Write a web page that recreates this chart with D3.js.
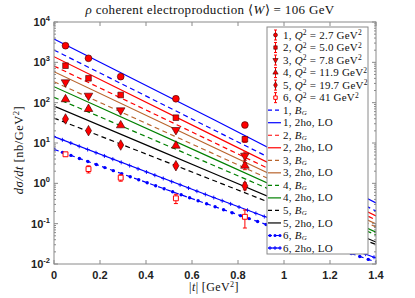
<!DOCTYPE html>
<html><head><meta charset="utf-8">
<script src="https://cdn.jsdelivr.net/npm/d3@7"></script>
<style>body{margin:0;background:#fff}svg{display:block}</style>
</head><body>
<svg id="c" width="415" height="298"></svg>
<script>
// ---------- data ----------
const tData = [0.05, 0.15, 0.29, 0.53, 0.83];
const q2Labels = ["2.7", "5.0", "7.8", "11.9", "19.7", "41"];
const data1 = [2580, 1260, 441, 125, 28];
const err1  = [150, 70, 25, 9, 4];
const data2 = [826, 402, 155, 42.4, 12.4];
const err2  = [50, 25, 10, 3.5, 2];
const data3 = [320, 149, 64.6, 21, 4.84];
const err3  = [20, 10, 4.5, 2, 1.1];
const data4 = [121, 69.6, 27.4, 8.57, 2.73];
const err4  = [8, 5, 2, 0.8, 0.55];
const data5 = [39.4, 20.2, 8.9, 2.73, 0.86];
const err5  = [3, 1.6, 0.8, 0.3, 0.17];
const data6 = [5.25, 2.26, 1.38, 0.425, 0.148];
const err6  = [0.5, 0.45, 0.25, 0.11, 0.07];

const tLine = [0, 0.7, 1.4];
const bg1 = [2020, 20.4, 0.206];
const ho1 = [3800, 36.6, 0.325];
const bg2 = [811, 10.0, 0.123];
const ho2 = [1380, 14.6, 0.155];
const bg3 = [331, 5.2, 0.0826];
const ho3 = [586, 7.55, 0.098];
const bg4 = [136, 2.69, 0.0525];
const ho4 = [249, 3.92, 0.0617];
const bg5 = [41.6, 1.14, 0.0304];
const ho5 = [82.6, 1.70, 0.035];
const bg6 = [6.97, 0.263, 0.0112];
const ho6 = [14.4, 0.432, 0.0141];

const xTicks = [0, 0.2, 0.4, 0.6, 0.8, 1, 1.2, 1.4];
const xTickLabels = ["0", "0.2", "0.4", "0.6", "0.8", "1", "1.2", "1.4"];
const yTicks = [1e-2, 1e-1, 1e0, 1e1, 1e2, 1e3, 1e4];
const yTickExps = ["-2", "-1", "0", "1", "2", "3", "4"];

// ---------- layout ----------
const svg = d3.select("#c");
const L = 54, R = 376, T = 22, B = 264;
const x = d3.scaleLinear().domain([0, 1.4]).range([L, R]);
const y = d3.scaleLog().domain([1e-2, 1e4]).range([B, T]);
const axisCol = "#8a8a8a";
const colors = ["#0000ff", "#ff0000", "#b8642c", "#008000", "#000000", "#0000ff"];

svg.append("defs").append("clipPath").attr("id", "clip")
  .append("rect").attr("x", L).attr("y", T).attr("width", R - L).attr("height", B - T);

// ---------- lines ----------
const lineGen = d3.line().x(d => x(d[0])).y(d => y(d[1])).curve(d3.curveMonotoneX);
const gl = svg.append("g").attr("clip-path", "url(#clip)");
const bgs = [bg1, bg2, bg3, bg4, bg5, bg6];
const hos = [ho1, ho2, ho3, ho4, ho5, ho6];
function addMarkers(path, kind, col) {
  const node = path.node(), len = node.getTotalLength();
  for (let s = 0; s <= len; s += 9) {
    const p = node.getPointAtLength(s);
    if (kind === "dot") {
      gl.append("circle").attr("cx", p.x).attr("cy", p.y).attr("r", 1.7).attr("fill", col);
    } else {
      gl.append("path").attr("d", `M${p.x-2},${p.y}H${p.x+2}M${p.x},${p.y-2}V${p.y+2}`)
        .attr("stroke", col).attr("stroke-width", 0.9);
    }
  }
}
bgs.forEach((arr, i) => {
  const p = gl.append("path").attr("d", lineGen(tLine.map((t, j) => [t, arr[j]])))
    .attr("fill", "none").attr("stroke", colors[i]).attr("stroke-width", 1.2)
    .attr("stroke-dasharray", "5,3.5");
  if (i === 5) addMarkers(p, "dot", colors[i]);
});
hos.forEach((arr, i) => {
  const p = gl.append("path").attr("d", lineGen(tLine.map((t, j) => [t, arr[j]])))
    .attr("fill", "none").attr("stroke", colors[i]).attr("stroke-width", 1.2);
  if (i === 5) addMarkers(p, "plus", colors[i]);
});

// ---------- data points ----------
const series = [data1, data2, data3, data4, data5, data6];
const errs = [err1, err2, err3, err4, err5, err6];
const shapes = [d3.symbolCircle, d3.symbolSquare, "down", "up", d3.symbolDiamond, d3.symbolSquare];
function markerPath(k, size) {
  if (k === "up" || k === "down") return d3.symbol().type(d3.symbolTriangle).size(size)();
  return d3.symbol().type(k).size(size)();
}
function drawMarker(g, i, cx, cy, size) {
  const m = g.append("path").attr("d", markerPath(shapes[i], size))
    .attr("transform", `translate(${cx},${cy})` + (shapes[i] === "down" ? " rotate(180)" : ""));
  if (i === 5) m.attr("fill", "#fff").attr("stroke", "#ff0000").attr("stroke-width", 1);
  else m.attr("fill", "#ff0000").attr("stroke", "#3a0000").attr("stroke-width", 0.6);
}
const gd = svg.append("g");
series.forEach((s, i) => {
  s.forEach((v, j) => {
    const cx = x(tData[j]);
    const y1 = y(v + errs[i][j]), y0 = y(Math.max(v - errs[i][j], 1e-3));
    gd.append("path").attr("d", `M${cx},${y1}V${y0}M${cx-2},${y1}H${cx+2}M${cx-2},${y0}H${cx+2}`)
      .attr("stroke", "#ff0000").attr("stroke-width", 1).attr("fill", "none");
  });
});
series.forEach((s, i) => {
  s.forEach((v, j) => drawMarker(gd, i, x(tData[j]), y(v), i === 0 ? 36 : (i === 5 ? 24 : 32)));
});

// ---------- axes frame ----------
const ga = svg.append("g");
ga.append("rect").attr("x", L).attr("y", T).attr("width", R - L).attr("height", B - T)
  .attr("fill", "none").attr("stroke", axisCol).attr("stroke-width", 1);
xTicks.forEach((t, i) => {
  const px = x(t);
  ga.append("path").attr("d", `M${px},${B}V${B-4}M${px},${T}V${T+4}`).attr("stroke", axisCol);
  ga.append("text").attr("x", px).attr("y", 279).attr("text-anchor", "middle")
    .attr("font-family", "Liberation Sans, Arial, sans-serif").attr("font-weight", "bold")
    .attr("font-size", 11).attr("fill", "#222").text(xTickLabels[i]);
});
yTicks.forEach((v, i) => {
  const py = y(v);
  ga.append("path").attr("d", `M${L},${py}H${L+4}M${R},${py}H${R-4}`).attr("stroke", axisCol);
  if (i < yTicks.length - 1) {
    for (let k = 2; k <= 9; k++) {
      const pm = y(v * k);
      ga.append("path").attr("d", `M${L},${pm}H${L+2}M${R},${pm}H${R-2}`).attr("stroke", axisCol);
    }
  }
  const tx = ga.append("text").attr("x", 50).attr("y", py + 4).attr("text-anchor", "end")
    .attr("font-family", "Liberation Sans, Arial, sans-serif").attr("font-weight", "bold")
    .attr("font-size", 11).attr("fill", "#222");
  tx.append("tspan").text("10");
  tx.append("tspan").attr("dy", -5).attr("font-size", 7.5).text(yTickExps[i]);
});

// ---------- texts ----------
const serif = "Liberation Serif, Times New Roman, serif";
const title = svg.append("text").attr("x", 210).attr("y", 14).attr("text-anchor", "middle")
  .attr("font-family", serif).attr("font-size", 13).attr("letter-spacing", 0.35).attr("fill", "#111");
title.append("tspan").attr("font-style", "italic").text("ρ");
title.append("tspan").text(" coherent electroproduction ⟨");
title.append("tspan").attr("font-style", "italic").text("W");
title.append("tspan").text("⟩ = 106 GeV");

const xl = svg.append("text").attr("x", 214).attr("y", 291).attr("text-anchor", "middle")
  .attr("font-family", serif).attr("font-size", 12).attr("letter-spacing", 0.4).attr("fill", "#111");
xl.append("tspan").text("|");
xl.append("tspan").attr("font-style", "italic").text("t");
xl.append("tspan").text("|  [GeV");
xl.append("tspan").attr("dy", -4).attr("font-size", 8).text("2");
xl.append("tspan").attr("dy", 4).text("]");

const yl = svg.append("text").attr("transform", "translate(23,150) rotate(-90)")
  .attr("text-anchor", "middle").attr("font-family", serif).attr("font-size", 12.5)
  .attr("letter-spacing", 0.5).attr("fill", "#111");
yl.append("tspan").attr("font-style", "italic").text("dσ/dt");
yl.append("tspan").text("  [nb/GeV");
yl.append("tspan").attr("dy", -4).attr("font-size", 8.5).text("2");
yl.append("tspan").attr("dy", 4).text("]");

// ---------- legend ----------
const lg = svg.append("g");
const LX = 267, LY = 27, LW = 101, LH = 227;
lg.append("rect").attr("x", LX).attr("y", LY).attr("width", LW).attr("height", LH)
  .attr("fill", "#fff").attr("stroke", axisCol).attr("stroke-width", 1);
const rowY = k => 35 + k * 12.53;
const textX = 283;
function legText(k) {
  return lg.append("text").attr("x", textX).attr("y", rowY(k) + 3.6)
    .attr("font-family", serif).attr("font-size", 11).attr("letter-spacing", 0.22).attr("fill", "#111");
}
q2Labels.forEach((q, i) => {
  const cy = rowY(i), cx = 275.5;
  lg.append("path").attr("d", `M${cx},${cy-5}V${cy+5}M${cx-1.5},${cy-5}H${cx+1.5}M${cx-1.5},${cy+5}H${cx+1.5}`)
    .attr("stroke", "#ff0000").attr("stroke-width", 1);
  drawMarker(lg, i, cx, cy, 12);
  const t = legText(i);
  t.append("tspan").text(`${i+1}, `);
  t.append("tspan").attr("font-style", "italic").text("Q");
  t.append("tspan").attr("dy", -3.5).attr("font-size", 7.5).text("2");
  t.append("tspan").attr("dy", 3.5).text(` = ${q} GeV`);
  t.append("tspan").attr("dy", -3.5).attr("font-size", 7.5).text("2");
});
for (let i = 0; i < 6; i++) {
  const kb = 6 + 2 * i, kh = kb + 1;
  const yb = rowY(kb), yh = rowY(kh);
  lg.append("path").attr("d", `M268,${yb}H281`).attr("stroke", colors[i]).attr("stroke-width", 1.2)
    .attr("stroke-dasharray", "4,3");
  lg.append("path").attr("d", `M268,${yh}H281`).attr("stroke", colors[i]).attr("stroke-width", 1.2);
  if (i === 5) {
    [270, 275, 280].forEach(px => lg.append("circle").attr("cx", px).attr("cy", yb).attr("r", 1.5).attr("fill", colors[i]));
    [270, 275, 280].forEach(px => lg.append("path").attr("d", `M${px-2},${yh}H${px+2}M${px},${yh-2}V${yh+2}`).attr("stroke", colors[i]).attr("stroke-width", 0.9));
  }
  const tb = legText(kb);
  tb.append("tspan").text(`${i+1}, `);
  tb.append("tspan").attr("font-style", "italic").text("B");
  tb.append("tspan").attr("font-style", "italic").attr("font-size", 7).attr("dy", 1.2).text("G");
  const th = legText(kh);
  th.append("tspan").text(`${i+1}, 2ho, LO`);
}
</script>
</body></html>
